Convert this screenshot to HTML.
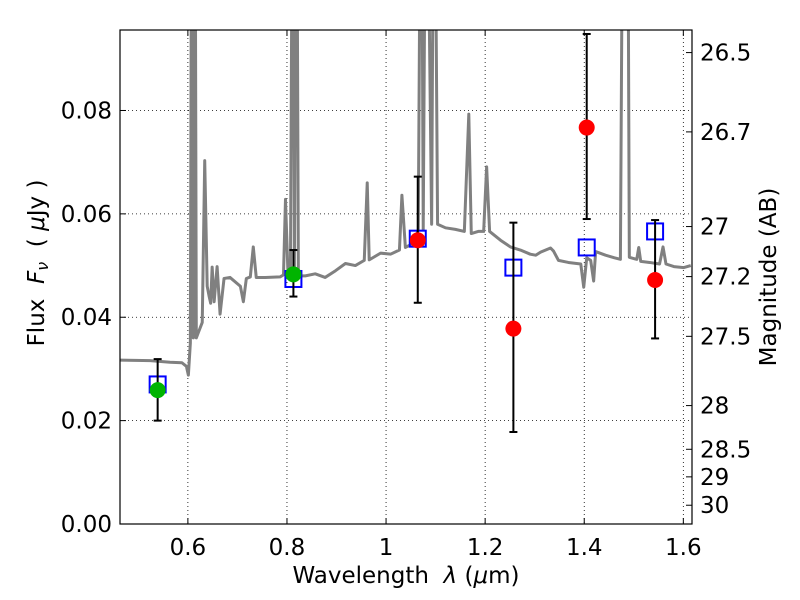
<!DOCTYPE html>
<html><head><meta charset="utf-8"><style>
body{margin:0;background:#fff;}
svg{display:block;font-family:"DejaVu Sans","Liberation Sans",sans-serif;}
</style></head><body>
<svg id="chart" width="800" height="600" viewBox="0 0 800 600"></svg>
<script>
// ---- data ----
const specLam = [0.463,0.524,0.564,0.588,0.597,0.601,0.605,0.608,0.611,0.614,0.617,0.621,0.629,0.634,0.639,0.643,0.646,0.649,0.653,0.659,0.665,0.673,0.685,0.706,0.712,0.718,0.726,0.732,0.738,0.756,0.786,0.793,0.797,0.802,0.807,0.812,0.815,0.819,0.823,0.837,0.857,0.877,0.898,0.918,0.938,0.956,0.962,0.966,0.989,1.009,1.027,1.032,1.039,1.049,1.059,1.065,1.071,1.075,1.081,1.092,1.097,1.104,1.120,1.140,1.158,1.167,1.172,1.186,1.197,1.203,1.209,1.231,1.251,1.271,1.291,1.302,1.312,1.332,1.338,1.348,1.368,1.393,1.399,1.405,1.413,1.419,1.423,1.443,1.461,1.473,1.479,1.487,1.491,1.506,1.510,1.514,1.532,1.552,1.559,1.565,1.581,1.601,1.615];
const specFlux = [0.0317,0.0316,0.0313,0.0312,0.0305,0.0288,0.035,0.15,0.036,0.15,0.036,0.037,0.039,0.0703,0.046,0.044,0.0427,0.0497,0.043,0.0498,0.0406,0.0475,0.0477,0.046,0.043,0.0475,0.0478,0.0536,0.0477,0.0477,0.0478,0.0482,0.0628,0.0485,0.048,0.15,0.049,0.15,0.048,0.048,0.0484,0.0477,0.049,0.0504,0.05,0.051,0.066,0.0511,0.0524,0.0522,0.053,0.0636,0.0535,0.054,0.055,0.057,0.15,0.057,0.15,0.058,0.15,0.058,0.0573,0.057,0.0566,0.0793,0.0562,0.0566,0.0566,0.0691,0.0566,0.0549,0.0536,0.053,0.0522,0.052,0.0526,0.0534,0.0528,0.051,0.0506,0.0503,0.0458,0.0515,0.051,0.047,0.0527,0.052,0.0515,0.0512,0.15,0.15,0.0516,0.0512,0.0535,0.0508,0.0506,0.0503,0.0536,0.0503,0.0498,0.0496,0.05];
const greenLam = [0.539,0.813];
const greenFlux = [0.0259,0.0483];
const greenErrHi = [0.0319,0.0530];
const greenErrLo = [0.0200,0.0440];
const redLam = [1.064,1.257,1.405,1.543];
const redFlux = [0.0549,0.0378,0.0767,0.0472];
const redErrHi = [0.0672,0.0583,0.0948,0.0588];
const redErrLo = [0.0428,0.0178,0.0590,0.0359];
const modelLam = [0.539,0.813,1.064,1.257,1.405,1.543];
const modelFlux = [0.0270,0.0474,0.0552,0.0496,0.0535,0.0566];
const xTicks = [0.6,0.8,1.0,1.2,1.4,1.6];
const xTickLabels = ["0.6","0.8","1","1.2","1.4","1.6"];
const yTicks = [0,0.02,0.04,0.06,0.08];
const yTickLabels = ["0.00","0.02","0.04","0.06","0.08"];
const magTicks = [26.5,26.7,27,27.2,27.5,28,28.5,29,30];
const magTickLabels = ["26.5","26.7","27","27.2","27.5","28","28.5","29","30"];

// ---- axes ----
const L=120,R=692,T=30,B=524;
const xMin=0.463,xMax=1.6175,yMin=0,yMax=0.09557;
const X=v=>L+(v-xMin)/(xMax-xMin)*(R-L);
const Y=v=>B-(v-yMin)/(yMax-yMin)*(B-T);
const magToFlux=m=>Math.pow(10,-(m-23.9)/2.5);
const NS="http://www.w3.org/2000/svg";
const svg=document.getElementById('chart');
function mk(tag,attrs,parent){const e=document.createElementNS(NS,tag);for(const k in attrs)e.setAttribute(k,attrs[k]);(parent||svg).appendChild(e);return e;}

const defs=mk('defs',{});
const cp=mk('clipPath',{id:'clip'},defs);
mk('rect',{x:L,y:T,width:R-L,height:B-T},cp);

const grid=mk('g',{});


xTicks.forEach(t=>{mk('line',{x1:X(t),x2:X(t),y1:T,y2:B,stroke:'#000','stroke-width':0.8,'stroke-dasharray':'1,3'},grid);});
yTicks.forEach(t=>{if(t>0)mk('line',{x1:L,x2:R,y1:Y(t),y2:Y(t),stroke:'#000','stroke-width':0.8,'stroke-dasharray':'1,3'},grid);});

const sp=mk('polyline',{points:specLam.map((l,i)=>X(l)+','+Y(specFlux[i])).join(' '),fill:'none',stroke:'#808080','stroke-width':3,'stroke-linejoin':'round','clip-path':'url(#clip)'});



modelLam.forEach((l,i)=>{
  const r=mk('rect',{x:X(l)-8,y:Y(modelFlux[i])-8,width:16,height:16,fill:'none',stroke:'#0000ff','stroke-width':2});
  
  
});

function errbars(lams,flux,hi,lo,color,name){
  lams.forEach((l,i)=>{
    const g=mk('g',{'clip-path':'url(#clip)'});
    
    
    const x=X(l);
    mk('line',{x1:x,x2:x,y1:Y(hi[i]),y2:Y(lo[i]),stroke:'#000','stroke-width':2},g);
    mk('line',{x1:x-4,x2:x+4,y1:Y(hi[i]),y2:Y(hi[i]),stroke:'#000','stroke-width':2},g);
    mk('line',{x1:x-4,x2:x+4,y1:Y(lo[i]),y2:Y(lo[i]),stroke:'#000','stroke-width':2},g);
    const c=mk('circle',{cx:x,cy:Y(flux[i]),r:8,fill:color});
    
    
  });
}
errbars(greenLam,greenFlux,greenErrHi,greenErrLo,'#00b400','green-photometry');
errbars(redLam,redFlux,redErrHi,redErrLo,'#ff0000','red-photometry');

const fr=mk('rect',{x:L,y:T,width:R-L,height:B-T,fill:'none',stroke:'#000','stroke-width':1.2});



xTicks.forEach((t,i)=>{
  mk('line',{x1:X(t),x2:X(t),y1:B,y2:B-6,stroke:'#000'});
  mk('line',{x1:X(t),x2:X(t),y1:T,y2:T+6,stroke:'#000'});
  const tx=mk('text',{x:X(t),y:B+31,'text-anchor':'middle','font-size':23});
  tx.textContent=xTickLabels[i];
  
  
});
yTicks.forEach((t,i)=>{
  mk('line',{x1:L,x2:L+6,y1:Y(t),y2:Y(t),stroke:'#000'});
  const tx=mk('text',{x:L-8,y:Y(t)+8,'text-anchor':'end','font-size':23});
  tx.textContent=yTickLabels[i];
  
  
});
magTicks.forEach((m,i)=>{
  const y=Y(magToFlux(m));
  mk('line',{x1:R,x2:R-6,y1:y,y2:y,stroke:'#000'});
  const tx=mk('text',{x:R+8,y:y+8,'text-anchor':'start','font-size':23});
  tx.textContent=magTickLabels[i];
  
  
});
</script>
<svg width="800" height="600" style="position:absolute;left:0;top:0" font-family="DejaVu Sans, Liberation Sans, sans-serif">
  <text x="406" y="583" text-anchor="middle" font-size="23" xml:space="preserve">Wavelength  <tspan font-style="italic">λ</tspan> (<tspan font-style="italic">μ</tspan>m)</text>
  <text transform="translate(44,263) rotate(-90)" text-anchor="middle" font-size="23" xml:space="preserve">Flux  <tspan font-style="italic">F</tspan><tspan font-style="italic" font-size="16" dy="4">ν</tspan><tspan dy="-4">  ( </tspan><tspan font-style="italic">μ</tspan>Jy )</text>
  <text transform="translate(776,277) rotate(-90)" text-anchor="middle" font-size="23">Magnitude (AB)</text>
</svg>
</body></html>
